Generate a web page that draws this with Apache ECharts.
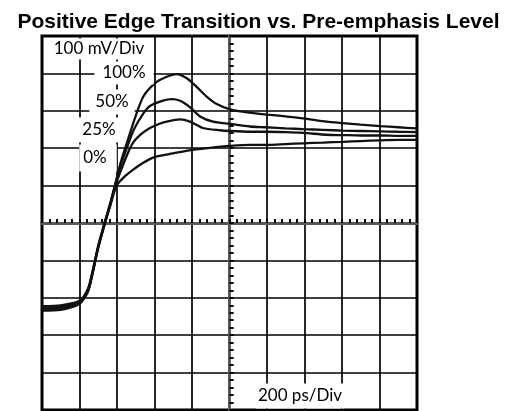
<!DOCTYPE html>
<html>
<head>
<meta charset="utf-8">
<script src="https://cdn.jsdelivr.net/npm/echarts@6/dist/echarts.min.js"></script>
<style>html,body{margin:0;padding:0;background:#fff}#c{width:517px;height:411px}</style>
</head>
<body>
<div id="c"></div>
<script>
// Time in ps relative to screen centre (200 ps/Div), voltage in mV relative to centre (100 mV/Div)
var xTicks = [-1000, -800, -600, -400, -200, 0, 200, 400, 600, 800, 1000];
var yTicks = [-500, -400, -300, -200, -100, 0, 100, 200, 300, 400, 500];

var pe100Time = [-1000, -900, -800, -755, -730, -700, -665, -635, -610, -580, -548, -510, -461, -397, -335, -282, -228, -175, -122, -68, 3, 109, 198, 300, 392, 518, 605, 700, 803, 900, 1000];
var pe100mV   = [-222, -220, -208, -176, -128, -60, 3, 55, 103, 162, 213, 272, 337, 374, 391, 398, 387, 364, 338, 318, 304, 295, 290, 285, 280, 271, 267, 263, 259, 256, 253];

var pe50Time = [-1000, -900, -800, -755, -730, -700, -665, -635, -610, -580, -548, -510, -461, -424, -355, -308, -264, -211, -157, -88, 3, 109, 198, 300, 392, 500, 605, 700, 803, 900, 1000];
var pe50mV   = [-226, -224, -211, -179, -131, -63, 1, 52, 100, 155, 200, 250, 292, 313, 327, 331, 327, 310, 285, 271, 265, 258, 256, 253, 251, 249, 247, 246, 245, 244, 243];

var pe25Time = [-1000, -900, -800, -755, -730, -700, -665, -635, -610, -584, -548, -515, -470, -424, -380, -335, -264, -211, -141, -51, 3, 109, 198, 300, 392, 518, 605, 700, 803, 900, 1000];
var pe25mV   = [-230, -228, -214, -182, -133, -65, -1, 50, 98, 134, 180, 214, 238, 254, 264, 271, 277, 271, 254, 248, 246, 244, 244, 243, 241, 236, 235, 234, 234, 233, 233];

var pe0Time = [-1000, -900, -800, -755, -730, -700, -665, -635, -602, -560, -515, -460, -397, -301, -205, -104, 3, 109, 198, 300, 392, 500, 605, 700, 803, 900, 1000];
var pe0mV   = [-234, -232, -216, -184, -135, -66, -2, 48, 100, 124, 142, 161, 177, 186, 195, 201, 206, 209, 209, 211, 213, 215, 217, 219, 221, 222, 222];

var seriesNames = ['100%', '50%', '25%', '0%'];

function pairs(t, v) { return t.map(function (x, i) { return [x, v[i]]; }); }

var chart = echarts.init(document.getElementById('c'), null, { renderer: 'canvas' });

function makeAxis(ticks, inside, primary) {
  return {
    type: 'value',
    min: ticks[0],
    max: ticks[ticks.length - 1],
    interval: ticks[1] - ticks[0],
    axisLabel: { show: false },
    axisLine: { show: true, onZero: true, onZeroAxisIndex: 0, lineStyle: { color: '#5a5a5a', width: 3 } },
    axisTick: { show: true, inside: inside, length: 4, lineStyle: { color: '#000', width: 1.6 } },
    minorTick: { show: true, splitNumber: 5, length: 4, lineStyle: { color: '#000', width: 1.6 } },
    splitLine: { show: primary, lineStyle: { color: '#000', width: 1.7 } },
    minorSplitLine: { show: false }
  };
}

var lineData = [pairs(pe100Time, pe100mV), pairs(pe50Time, pe50mV), pairs(pe25Time, pe25mV), pairs(pe0Time, pe0mV)];

var labelFont = '17px Lato';
function label(text, x, y, padding) {
  return {
    type: 'text', x: x, y: y, z: 100,
    style: { text: text, font: labelFont, fill: '#000', backgroundColor: '#fff', padding: padding, align: 'center', verticalAlign: 'middle' }
  };
}

chart.setOption({
  animation: false,
  backgroundColor: '#fff',
  title: {
    text: 'Positive Edge Transition vs. Pre-emphasis Level',
    left: 'center', top: 7,
    textStyle: { fontFamily: 'Liberation Sans', fontWeight: 'bold', fontSize: 21, color: '#000' }
  },
  grid: { left: 42, right: 100, top: 36, bottom: 1, show: true, borderColor: '#000', borderWidth: 3, backgroundColor: '#fff' },
  xAxis: [makeAxis(xTicks, true, true), makeAxis(xTicks, false, false)],
  yAxis: [makeAxis(yTicks, true, true), makeAxis(yTicks, false, false)],
  series: lineData.map(function (d, i) {
    return {
      type: 'line', name: seriesNames[i], data: d, showSymbol: false, smooth: 0.25,
      lineStyle: { color: '#111', width: 2.3 }, z: 5, clip: true
    };
  }),
  graphic: [
    label('100 mV/Div', 99, 49, [2, 4]),
    label('100%', 124, 73, [3, 8]),
    label('50%', 112, 102, [4, 6]),
    label('25%', 99, 130, [4, 6]),
    label('0%', 98, 158, [5, 10, 5, 4]),
    label('200 ps/Div', 300, 396, [4, 2])
  ]
});
</script>
</body>
</html>
